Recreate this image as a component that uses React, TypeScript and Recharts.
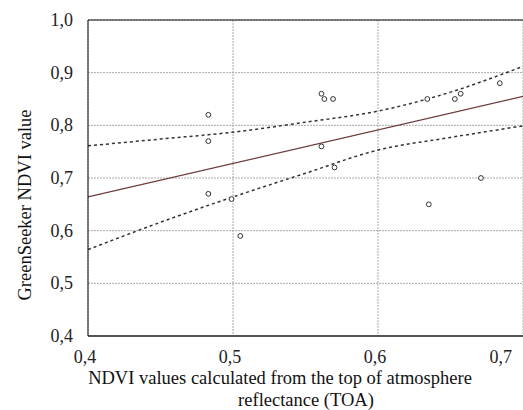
import React from 'react'
import {
  ComposedChart, Scatter, Line, XAxis, YAxis, CartesianGrid, ReferenceLine, Label,
} from 'recharts'

// measured points (TOA NDVI vs GreenSeeker NDVI)
const toaNdvi = [0.483, 0.483, 0.483, 0.499, 0.505, 0.561, 0.563, 0.569, 0.561, 0.570, 0.634, 0.653, 0.657, 0.684, 0.671, 0.635]
const greenSeeker = [0.82, 0.77, 0.67, 0.66, 0.59, 0.86, 0.85, 0.85, 0.76, 0.72, 0.85, 0.85, 0.86, 0.88, 0.70, 0.65]

// fitted line ends
const fitX = [0.4, 0.7]
const fitY = [0.664, 0.855]

// 95% confidence band
const bandX = [0.4, 0.45, 0.5, 0.55, 0.6, 0.65, 0.7]
const bandUpper = [0.761, 0.774, 0.787, 0.806, 0.827, 0.863, 0.912]
const bandLower = [0.564, 0.616, 0.664, 0.709, 0.753, 0.777, 0.799]

const xTicks = [0.4, 0.5, 0.6, 0.7]
const yTicks = [0.4, 0.5, 0.6, 0.7, 0.8, 0.9, 1.0]

const points = toaNdvi.map((x, i) => ({ x, y: greenSeeker[i] }))
const fit = fitX.map((x, i) => ({ x, y: fitY[i] }))
const upper = bandX.map((x, i) => ({ x, y: bandUpper[i] }))
const lower = bandX.map((x, i) => ({ x, y: bandLower[i] }))

const font = "'Liberation Serif', 'DejaVu Serif', serif"
const comma = (v: number) => v.toFixed(1).replace('.', ',')

const Dot = (p: any) => (
  <circle cx={p.cx} cy={p.cy} r={2.4} fill='#fff' stroke='#333' strokeWidth={1} />
)

const XTick = (p: any) => {
  // last label sits on the right edge, keep it inside
  const last = p.index === xTicks.length - 1
  return (
    <text x={last ? p.x - 1 : p.x - 3} y={p.y + 25} textAnchor={last ? 'end' : 'middle'}
      style={{ fontFamily: font, fontSize: 18 }} fill='#222'>
      {comma(p.payload.value)}
    </text>
  )
}

const YTick = (p: any) => (
  <text x={p.x - 13} y={p.y + 6} textAnchor='end' style={{ fontFamily: font, fontSize: 18 }} fill='#222'>
    {comma(p.payload.value)}
  </text>
)

const XTitle = (p: any) => {
  const vb = p.viewBox
  return (
    <g style={{ fontFamily: font, fontSize: 18.5 }} fill='#111'>
      <text x={280} y={vb.y + 48} textAnchor='middle'>NDVI values calculated from the top of atmosphere</text>
      <text x={306} y={vb.y + 70} textAnchor='middle'>reflectance (TOA)</text>
    </g>
  )
}

const YTitle = () => (
  <text x={31} y={205} transform='rotate(-90 31 205)' textAnchor='middle'
    style={{ fontFamily: font, fontSize: 18.5 }} fill='#111'>GreenSeeker NDVI value</text>
)

export default function App() {
  return (
    <div style={{ position: 'absolute', left: 0, top: 0, width: 523, height: 410, background: '#fff' }}>
      <ComposedChart width={523} height={410} margin={{ top: 20, right: 0, bottom: 0, left: 0 }}>
        <CartesianGrid stroke='#aaa' strokeDasharray='2 1' />
        <XAxis type='number' dataKey='x' domain={[0.4, 0.7]} ticks={xTicks}
          height={74} tickSize={0} allowDataOverflow
          axisLine={{ stroke: '#555', strokeWidth: 2 }}
          tick={XTick}>
          <Label content={XTitle} />
        </XAxis>
        <YAxis type='number' dataKey='y' domain={[0.4, 1.0]} ticks={yTicks}
          width={88} tickSize={0} allowDataOverflow
          axisLine={{ stroke: '#111', strokeWidth: 1 }}
          tick={YTick}>
          <Label content={YTitle} />
        </YAxis>
        <ReferenceLine y={1.0} stroke='#111' strokeWidth={1} />
        <Line data={upper} dataKey='y' type='monotone' stroke='#333' strokeWidth={1.5}
          strokeDasharray='3 3' dot={false} isAnimationActive={false} />
        <Line data={lower} dataKey='y' type='monotone' stroke='#333' strokeWidth={1.5}
          strokeDasharray='3 3' dot={false} isAnimationActive={false} />
        <Line data={fit} dataKey='y' type='linear' stroke='#6b3a3a' strokeWidth={1.3}
          dot={false} isAnimationActive={false} />
        <Scatter data={points} dataKey='y' shape={Dot} isAnimationActive={false} />
      </ComposedChart>
    </div>
  )
}
